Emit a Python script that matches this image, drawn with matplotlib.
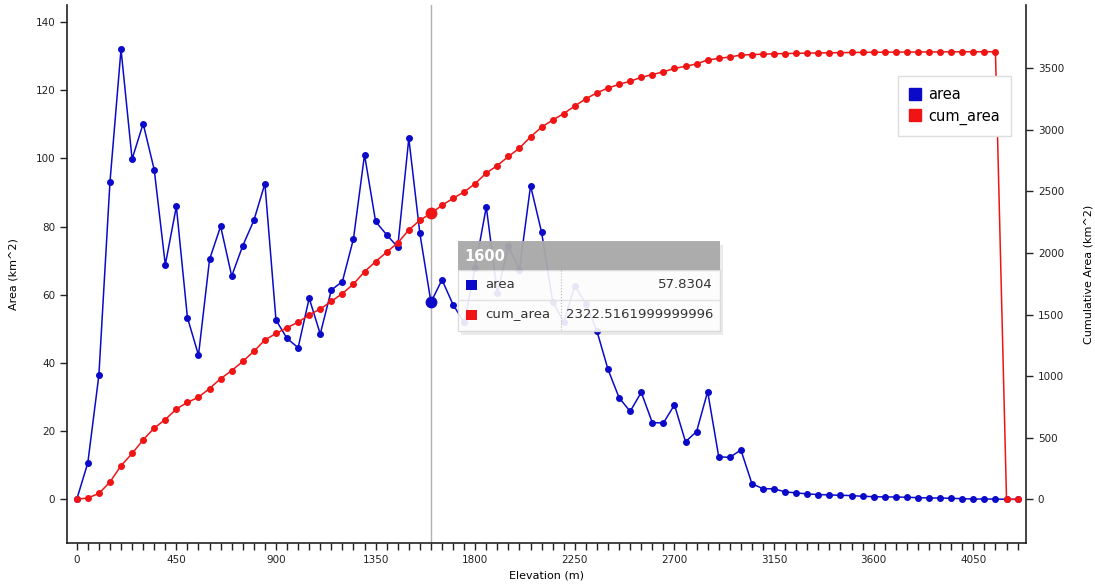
import matplotlib
matplotlib.use('Agg')
import matplotlib.pyplot as plt
import numpy as np
from matplotlib.lines import Line2D
from matplotlib.patches import Rectangle

# elevation bands (m) and area per band / cumulative area (km^2)
elevation = list(range(0, 4300, 50))
area = [0.0, 10.7, 36.4, 93.0, 132.0, 99.8, 110.2, 96.7, 68.8, 85.9,
        53.3, 42.3, 70.4, 80.1, 65.5, 74.4, 81.8, 92.6, 52.6, 47.2,
        44.5, 59.0, 48.5, 61.4, 63.9, 76.4, 101.1, 81.5, 77.6, 74.0,
        105.9, 78.0, 57.8304, 64.4, 57.1, 51.9, 68.0, 85.8, 60.5, 74.2,
        67.4, 92.0, 78.3, 58.0, 52.0, 62.6, 57.4, 49.3, 38.1, 29.8,
        25.8, 31.4, 22.5, 22.4, 27.7, 16.9, 19.9, 31.6, 12.5, 12.3,
        14.5, 4.6, 3.1, 3.1, 2.2, 1.9, 1.6, 1.4, 1.3, 1.2,
        1.1, 0.9, 0.8, 0.7, 0.7, 0.6, 0.5, 0.4, 0.4, 0.3,
        0.2, 0.1, 0.1, 0.1, 0.0, 0.0]
cum_area = [0.0, 10.7, 47.1, 140.1, 272.1, 371.9, 482.1, 578.8, 647.6, 733.5,
            786.8, 829.1, 899.5, 979.6, 1045.1, 1119.5, 1201.3, 1293.9, 1346.5, 1393.7,
            1438.2, 1497.2, 1545.7, 1607.1, 1671.0, 1747.4, 1848.5, 1930.0, 2007.6, 2081.6,
            2187.5, 2265.5, 2322.5161999999996, 2386.9, 2444.0, 2495.9, 2563.9, 2649.7, 2710.2, 2784.4,
            2851.8, 2943.8, 3022.1, 3080.1, 3132.1, 3194.7, 3252.1, 3301.4, 3339.5, 3369.3,
            3395.1, 3426.5, 3449.0, 3471.4, 3499.1, 3516.0, 3535.9, 3567.5, 3580.0, 3592.3,
            3606.8, 3611.4, 3614.5, 3617.6, 3619.8, 3621.7, 3623.3, 3624.7, 3626.0, 3627.2,
            3628.3, 3629.2, 3630.0, 3630.7, 3631.4, 3632.0, 3632.5, 3632.9, 3633.3, 3633.6,
            3633.8, 3633.9, 3634.0, 3634.1, 0.0, 0.0]
hover_x = 1600

BLUE = '#0a0ac8'
RED = '#f01414'
W, H = 1095, 586


def fx(px):
    return px / W


def fy(py):
    return 1 - py / H


fig = plt.figure(figsize=(W / 100, H / 100), dpi=100)
ax = fig.add_axes([fx(67), fy(543), fx(1026) - fx(67), fy(5) - fy(543)])
ax2 = ax.twinx()

ax.axvline(hover_x, color='#b0b0b0', lw=1, zorder=1)
ax.plot(elevation, area, '-o', color=BLUE, lw=1.1, ms=4, zorder=3)
ax2.plot(elevation, cum_area, '-o', color=RED, lw=1.1, ms=4, zorder=3)

i = elevation.index(hover_x)
ax.plot(hover_x, area[i], 'o', color=BLUE, ms=7.5, zorder=4)
ax2.plot(hover_x, cum_area[i], 'o', color=RED, ms=7.5, zorder=4)

ax.set_xlim(-44, 4288)
ax.set_ylim(-12.8, 145.0)
ax2.set_ylim(-355, 4014)

ax.set_xticks(range(0, 4300, 450))
ax.set_xticks(elevation, minor=True)
ax.set_yticks(range(0, 141, 20))
ax2.set_yticks(range(0, 3501, 500))

for a in (ax, ax2):
    a.tick_params(which='both', direction='out', length=5, width=1,
                  labelsize=7.5, labelcolor='#222222', color='#222222')
    a.spines['top'].set_visible(False)
    for s in a.spines.values():
        s.set_linewidth(1.2)
        s.set_color('#222222')
ax.spines['right'].set_visible(False)
ax2.spines['left'].set_visible(False)
ax2.spines['bottom'].set_visible(False)

ax.set_xlabel('Elevation (m)', fontsize=8, labelpad=4)
ax.set_ylabel('Area (km^2)', fontsize=8, labelpad=12)
ax2.set_ylabel('Cumulative Area (km^2)', fontsize=8, labelpad=14)

# legend
handles = [Line2D([], [], marker='s', ls='None', color=BLUE, ms=8),
           Line2D([], [], marker='s', ls='None', color=RED, ms=8)]
leg = fig.legend(handles, ['area', 'cum_area'], loc='upper left',
                 bbox_to_anchor=(fx(898), fy(76)), borderaxespad=0,
                 fontsize=10.5, handlelength=0.8, handletextpad=0.5,
                 labelspacing=0.45, borderpad=0.75, fancybox=False,
                 edgecolor='#dddddd', framealpha=1)
leg.get_frame().set_linewidth(1)

# hover tooltip
x0, x1, y0, y1 = 458, 720, 241, 331
hy, ry = 270, 300
sep_x = 561
fig.add_artist(Rectangle((fx(x0 + 3), fy(y1 + 4)), fx(x1 - x0), fy(y0) - fy(y1),
                         transform=fig.transFigure, color='#000000', alpha=0.08,
                         lw=0, zorder=5))
fig.add_artist(Rectangle((fx(x0), fy(y1)), fx(x1 - x0), fy(hy) - fy(y1),
                         transform=fig.transFigure, facecolor='white', alpha=0.9,
                         edgecolor='#d8d8d8', lw=1, zorder=6))
fig.add_artist(Rectangle((fx(x0), fy(hy)), fx(x1 - x0), fy(y0) - fy(hy),
                         transform=fig.transFigure, facecolor='#a9a9a9', alpha=0.95,
                         lw=0, zorder=6))
fig.add_artist(Line2D([fx(x0), fx(x1)], [fy(ry), fy(ry)], transform=fig.transFigure,
                      color='#e2e2e2', lw=1, zorder=7))
fig.add_artist(Line2D([fx(sep_x), fx(sep_x)], [fy(hy), fy(y1)], transform=fig.transFigure,
                      color='#bbbbbb', lw=0.8, ls=':', zorder=7))
fig.text(fx(464), fy(256), str(hover_x), color='white', fontsize=10.5,
         fontweight='bold', va='center', ha='left', zorder=8)
rows = [('area', BLUE, '{}'.format(area[i])), ('cum_area', RED, repr(cum_area[i]))]
for k, (name, col, val) in enumerate(rows):
    cy = (hy + ry) / 2 + k * (ry - hy)
    fig.add_artist(Rectangle((fx(466), fy(cy + 5)), fx(11), fy(cy - 5) - fy(cy + 5),
                             transform=fig.transFigure, color=col, lw=0, zorder=8))
    fig.text(fx(485), fy(cy), name, fontsize=9.5, color='#333333',
             va='center', ha='left', zorder=8)
    fig.text(fx(713), fy(cy), val, fontsize=9.5, color='#333333',
             va='center', ha='right', zorder=8)

fig.savefig('out.png', dpi=100)
